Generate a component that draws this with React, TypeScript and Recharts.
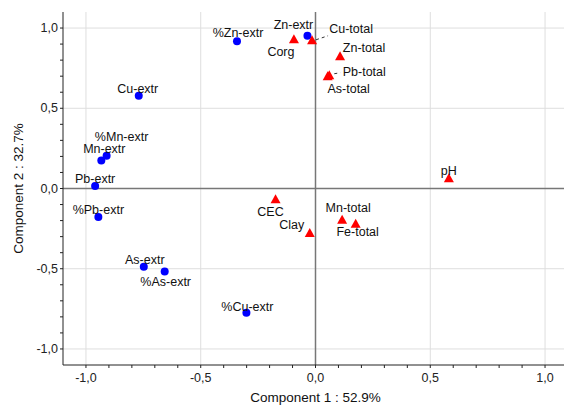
import React from "react";
import {
  ReferenceLine,
  Scatter,
  ScatterChart,
  XAxis,
  YAxis,
} from "recharts";

// extractable fractions (blue circles)
const extrNames = ["%Zn-extr", "Zn-extr", "Cu-extr", "%Mn-extr", "Mn-extr", "Pb-extr", "%Pb-extr", "As-extr", "%As-extr", "%Cu-extr"];
const extrX = [-0.342, -0.035, -0.77, -0.91, -0.933, -0.96, -0.946, -0.748, -0.657, -0.301];
const extrY = [0.917, 0.952, 0.578, 0.204, 0.175, 0.015, -0.178, -0.487, -0.518, -0.775];

// total contents and soil properties (red triangles)
const totalNames = ["Corg", "Cu-total", "Zn-total", "Pb-total", "As-total", "pH", "CEC", "Clay", "Mn-total", "Fe-total"];
const totalX = [-0.094, -0.015, 0.107, 0.06, 0.053, 0.581, -0.174, -0.025, 0.116, 0.175];
const totalY = [0.934, 0.927, 0.828, 0.709, 0.703, 0.067, -0.064, -0.274, -0.191, -0.216];

const majorTicks = [-1, -0.5, 0, 0.5, 1];
const allTicks = [-1, -0.9, -0.8, -0.7, -0.6, -0.5, -0.4, -0.3, -0.2, -0.1, 0, 0.1, 0.2, 0.3, 0.4, 0.5, 0.6, 0.7, 0.8, 0.9, 1];

const xTitle = "Component 1 : 52.9%";
const yTitle = "Component 2 : 32.7%";

// label placement around each marker (text centre offset, optional leader line)
const labelPos: Record<string, { dx: number; dy: number; leader?: number[] }> = {
  "%Zn-extr": { dx: 1, dy: -8 },
  "Zn-extr": { dx: -14, dy: -11 },
  "Cu-extr": { dx: -1, dy: -7 },
  "%Mn-extr": { dx: 15, dy: -19 },
  "Mn-extr": { dx: 3, dy: -11 },
  "Pb-extr": { dx: 0, dy: -7 },
  "%Pb-extr": { dx: 0, dy: -7 },
  "As-extr": { dx: 1, dy: -7 },
  "%As-extr": { dx: 1, dy: 10 },
  "%Cu-extr": { dx: 1, dy: -6 },
  Corg: { dx: -13, dy: 13 },
  "Cu-total": { dx: 39, dy: -11, leader: [4, 0, 16, -4] },
  "Zn-total": { dx: 24, dy: -8 },
  "Pb-total": { dx: 35, dy: -3, leader: [5, -1, 11, -2] },
  "As-total": { dx: 21, dy: 13 },
  pH: { dx: 0, dy: -7 },
  CEC: { dx: -5, dy: 13 },
  Clay: { dx: -18, dy: -7 },
  "Mn-total": { dx: 6, dy: -11 },
  "Fe-total": { dx: 2, dy: 9 },
};

const extrData = extrNames.map((n, i) => ({ name: n, x: extrX[i], y: extrY[i] }));
const totalData = totalNames.map((n, i) => ({ name: n, x: totalX[i], y: totalY[i] }));

const font = "Arial, 'Liberation Sans', sans-serif";
const fmt = (v: number) => (Math.abs(v) < 1e-9 ? "0,0" : v.toFixed(1).replace(".", ","));
const isMajor = (v: number) => majorTicks.some((m) => Math.abs(m - v) < 1e-9);

function PointLabel({ cx, cy, name }: { cx: number; cy: number; name: string }) {
  const p = labelPos[name] || { dx: 0, dy: -7 };
  return (
    <g>
      {p.leader && (
        <line
          x1={cx + p.leader[0]}
          y1={cy + p.leader[1]}
          x2={cx + p.leader[2]}
          y2={cy + p.leader[3]}
          stroke="#333"
          strokeWidth={1}
          strokeDasharray="3 3"
        />
      )}
      <text
        x={cx + p.dx}
        y={cy + p.dy}
        textAnchor="middle"
        dominantBaseline="central"
        fontSize={12.5}
        fontFamily={font}
        fill="#111"
      >
        {name}
      </text>
    </g>
  );
}

const circleShape = (props: any) => (
  <g>
    <circle cx={props.cx} cy={props.cy} r={4} fill="#0000ff" />
    <PointLabel cx={props.cx} cy={props.cy} name={props.payload.name} />
  </g>
);

const triangleShape = (props: any) => {
  const { cx, cy } = props;
  return (
    <g>
      <polygon points={`${cx},${cy - 4.5} ${cx + 5},${cy + 4.5} ${cx - 5},${cy + 4.5}`} fill="#ff0000" />
      <PointLabel cx={cx} cy={cy} name={props.payload.name} />
    </g>
  );
};

const XTick = (props: any) => {
  const v = props.payload.value;
  if (!isMajor(v)) return <g />;
  return (
    <text x={props.x} y={props.y + 12} textAnchor="middle" fontSize={12.5} fontFamily={font} fill="#222">
      {fmt(v)}
    </text>
  );
};

const YTick = (props: any) => {
  const v = props.payload.value;
  if (!isMajor(v)) return <g />;
  return (
    <text x={props.x} y={props.y} textAnchor="end" dominantBaseline="central" fontSize={12.5} fontFamily={font} fill="#222">
      {fmt(v)}
    </text>
  );
};

export default function App() {
  return (
    <div
      style={{
        position: "fixed",
        left: 0,
        top: 0,
        width: 564,
        height: 405,
        overflow: "hidden",
        background: "#fff",
      }}
    >
      <ScatterChart width={600} height={405} margin={{ top: 12, right: 32, bottom: 0, left: 0 }}>
        <XAxis
          type="number"
          dataKey="x"
          domain={[-1.1, 1.1]}
          ticks={allTicks}
          interval={0}
          allowDataOverflow
          height={40}
          tick={XTick}
          tickSize={3}
          tickLine={{ stroke: "#222" }}
          axisLine={{ stroke: "#222" }}
          label={{ value: xTitle, position: "insideBottom", offset: 3, fill: "#111", fontSize: 13.5, fontFamily: font }}
        />
        <XAxis
          xAxisId="top"
          orientation="top"
          type="number"
          domain={[-1.1, 1.1]}
          ticks={allTicks}
          interval={0}
          height={0}
          mirror
          tick={false}
          tickSize={2}
          tickLine={{ stroke: "#222" }}
          axisLine={{ stroke: "#000" }}
        />
        <YAxis
          type="number"
          dataKey="y"
          domain={[-1.1, 1.1]}
          ticks={allTicks}
          interval={0}
          allowDataOverflow
          width={63}
          tick={YTick}
          tickSize={3}
          tickLine={{ stroke: "#222" }}
          axisLine={{ stroke: "#222" }}
          label={{
            value: yTitle,
            angle: -90,
            position: "insideLeft",
            offset: 18,
            fill: "#111",
            fontSize: 13.5,
            fontFamily: font,
            style: { textAnchor: "middle" },
          }}
        />
        {majorTicks
          .filter((v) => v !== 0)
          .map((v) => (
            <ReferenceLine key={"gx" + v} x={v} stroke="#dedede" strokeWidth={1} />
          ))}
        {majorTicks
          .filter((v) => v !== 0)
          .map((v) => (
            <ReferenceLine key={"gy" + v} y={v} stroke="#dedede" strokeWidth={1} />
          ))}
        <ReferenceLine x={0} stroke="#777" strokeWidth={1.5} />
        <ReferenceLine y={0} stroke="#777" strokeWidth={1.5} />
        <Scatter data={extrData} shape={circleShape} isAnimationActive={false} />
        <Scatter data={totalData} shape={triangleShape} isAnimationActive={false} />
      </ScatterChart>
    </div>
  );
}
